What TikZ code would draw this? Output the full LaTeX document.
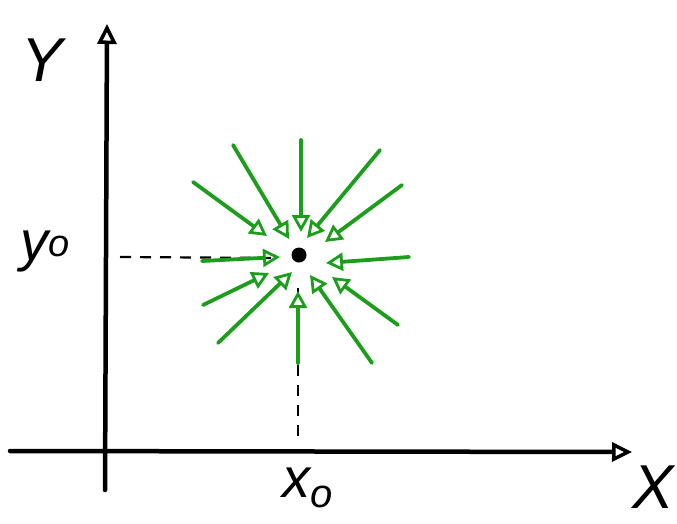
\documentclass[tikz,border=0pt]{standalone}
\usepackage{fontspec}
\setmainfont{Liberation Sans}
\usetikzlibrary{arrows.meta}
\definecolor{fieldgreen}{RGB}{28,158,28}
\begin{document}
\begin{tikzpicture}[x=1pt,y=-1pt,
  axis/.style={line width=4.5pt, line cap=round, -{Triangle[open,length=20pt,width=19pt,line width=3.5pt]}},
  guide/.style={line width=2.2pt, dash pattern=on 11pt off 9pt},
  flow/.style={fieldgreen, line width=3.8pt, line cap=round, -{Triangle[open,length=17pt,width=18pt,line width=2.8pt]}},
  lbl/.style={inner sep=0pt, font=\fontsize{62}{62}\selectfont\itshape},
  sublbl/.style={inner sep=0pt, font=\fontsize{56}{56}\selectfont\itshape}]
\useasboundingbox (0,0) rectangle (677,523);
% axes
\coordinate (xs) at (10,451);
\coordinate (xe) at (632,452);
\coordinate (ys) at (105,490);
\coordinate (ye) at (107,24);
\draw[axis] (xs) -- (xe);
\draw[axis] (ys) -- (ye);
% labels
\node[lbl] (Ylab) at (42,60) {Y};
\node[lbl] (Xlab) at (653,487) {X};
\node[sublbl] (ylab) at (45,252) {y\raisebox{4pt}{\fontsize{38}{38}\selectfont o}};
\node[sublbl] (xlab) at (308,488) {x\raisebox{-10pt}{\fontsize{40}{40}\selectfont o}};
% point
\node[circle, fill=black, inner sep=0pt, minimum size=15pt] (p) at (299,255) {};
% guides
\coordinate (gh0) at (120,257);
\coordinate (gh1) at (280,258);
\coordinate (gv0) at (298,436);
\coordinate (gv1) at (298,288);
\draw[guide] (gh0) -- (gh1);
\draw[guide] (gv0) -- (gv1);
% flow arrows
\foreach \n/\sx/\sy/\ex/\ey in {
  a/301/140/301/232,
  b/233/145/289/239,
  c/193/182/267/236,
  d/380/150/307/238,
  e/402/185/325/242,
  f/409/257/326/263,
  g/398/325/332/277,
  h/372/363/310/275,
  i/298/363/298/291,
  j/218/343/292/272,
  k/203/305/269/273,
  l/202/261/280/257}{
  \coordinate (s\n) at (\sx,\sy);
  \coordinate (e\n) at (\ex,\ey);
  \draw[flow] (s\n) -- (e\n);
}
\end{tikzpicture}
\end{document}
